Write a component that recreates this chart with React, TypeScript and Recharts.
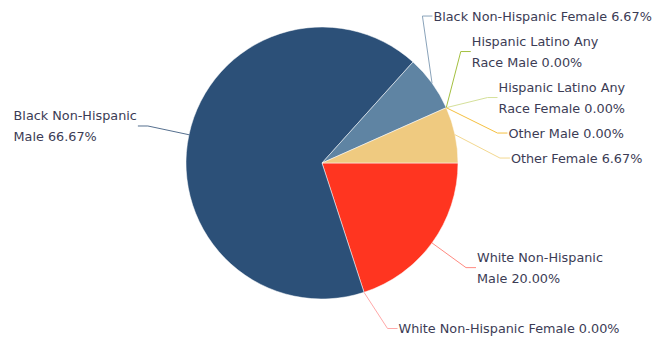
import React from "react";
import { PieChart, Pie, Cell } from "recharts";

// slices, clockwise from 3 o'clock
const categories = [
  "White Non-Hispanic Male",
  "White Non-Hispanic Female",
  "Black Non-Hispanic Male",
  "Black Non-Hispanic Female",
  "Hispanic Latino Any Race Male",
  "Hispanic Latino Any Race Female",
  "Other Male",
  "Other Female",
];
const counts = [3, 0, 10, 1, 0, 0, 0, 1];
const sliceColors = ["#ff3520", "#ff9a9a", "#2c5078", "#5f84a3", "#a2bf3a", "#d5e09a", "#f5bf3e", "#efca80"];
const connectorColors = ["#ff8a80", "#ffa8a8", "#56708f", "#8aa3ba", "#a4c040", "#d5e09a", "#f5c040", "#f3d890"];
// how many words go on the first label line (0 = no wrap)
const firstLineWords = [2, 0, 2, 0, 3, 3, 0, 0];

const W = 652;
const H = 340;
const CX = 322;
const CY = 163;
const R = 136;
const LABEL_R = 178;
const LINE_H = 21;
const FONT_SIZE = 12.8;
const FONT_FAMILY = "'DejaVu Sans', sans-serif";
const TEXT_COLOR = "#3c3c55";

const total = counts.reduce((a, b) => a + b, 0);
const data = categories.map((name, i) => ({ name, value: counts[i] }));

function labelLines(i: number) {
  const pct = ((counts[i] / total) * 100).toFixed(2) + "%";
  const words = (categories[i] + " " + pct).split(" ");
  const n = firstLineWords[i];
  return n ? [words.slice(0, n).join(" "), words.slice(n).join(" ")] : [words.join(" ")];
}

type Box = { i: number; side: number; target: number; h: number; lines: string[]; y: number };

// spread labels on each side so they don't overlap
function layoutLabels() {
  const items: Box[] = counts.map((v, i) => {
    const before = counts.slice(0, i).reduce((a, b) => a + b, 0);
    const rad = (((before + v / 2) / total) * 360 * Math.PI) / 180;
    const lines = labelLines(i);
    return {
      i,
      side: Math.cos(rad) >= 0 ? 1 : -1,
      target: CY + Math.sin(rad) * LABEL_R,
      h: lines.length * LINE_H + 4,
      lines,
      y: 0,
    };
  });
  const pos: Box[] = [];
  [1, -1].forEach((side) => {
    const boxes = items.filter((b) => b.side === side).sort((a, b) => a.target - b.target || a.i - b.i);
    type Group = { items: Box[]; size: number; top: number };
    const place = (g: Group) => {
      let off = 0;
      let sum = 0;
      g.items.forEach((b) => {
        sum += b.target - (off + b.h / 2);
        off += b.h;
      });
      g.top = Math.min(Math.max(sum / g.items.length, 0), H + 1 - g.size);
    };
    const groups: Group[] = boxes.map((b) => ({ items: [b], size: b.h, top: 0 }));
    groups.forEach(place);
    let merged = true;
    while (merged) {
      merged = false;
      for (let k = 0; k < groups.length - 1; k++) {
        if (groups[k].top + groups[k].size > groups[k + 1].top) {
          const g = { items: [...groups[k].items, ...groups[k + 1].items], size: groups[k].size + groups[k + 1].size, top: 0 };
          place(g);
          groups.splice(k, 2, g);
          merged = true;
          break;
        }
      }
    }
    groups.forEach((g) => {
      let off = g.top;
      g.items.forEach((b) => {
        pos[b.i] = { ...b, y: off + b.h / 2 };
        off += b.h;
      });
    });
  });
  return pos;
}

const layout = layoutLabels();

let ctx: CanvasRenderingContext2D | null = null;
function measure(s: string) {
  if (!ctx) ctx = document.createElement("canvas").getContext("2d");
  if (!ctx) return s.length * 7;
  ctx.font = `${FONT_SIZE}px ${FONT_FAMILY}`;
  return ctx.measureText(s).width;
}

const RAD = Math.PI / 180;

const renderLabel = (props: any) => {
  const { cx, cy, midAngle, outerRadius, index } = props;
  const L = layout[index];
  const a = -midAngle * RAD;
  const ex = cx + Math.cos(a) * outerRadius;
  const ey = cy + Math.sin(a) * outerRadius;
  const dy = L.y - cy;
  const bx = cx + L.side * Math.sqrt(Math.max(0, LABEL_R * LABEL_R - dy * dy));
  const tx = bx + L.side * 11;
  const width = Math.max(...L.lines.map(measure));
  const startX = L.side > 0 ? tx : tx - width;
  const baseline = L.y - ((L.lines.length - 1) * LINE_H) / 2 + 4.5;
  return (
    <g key={`lbl-${index}`}>
      <path
        d={`M${ex},${ey}L${bx},${L.y}L${tx - L.side},${L.y}`}
        stroke={connectorColors[index]}
        strokeWidth={1}
        fill="none"
      />
      <text x={startX} y={baseline} fill={TEXT_COLOR} fontSize={FONT_SIZE} fontFamily={FONT_FAMILY}>
        {L.lines.map((ln, k) => (
          <tspan key={k} x={startX} dy={k ? LINE_H : 0}>
            {ln}
          </tspan>
        ))}
      </text>
    </g>
  );
};

export default function App() {
  return (
    <div style={{ position: "absolute", left: 0, top: 0, width: W, height: H, background: "#fff" }}>
      <PieChart width={W} height={H} margin={{ top: 0, right: 0, bottom: 0, left: 0 }}>
        <Pie
          data={data}
          dataKey="value"
          nameKey="name"
          cx={CX}
          cy={CY}
          outerRadius={R}
          startAngle={0}
          endAngle={-360}
          stroke="#ffffff"
          strokeWidth={0.5}
          label={renderLabel}
          labelLine={false}
          isAnimationActive={false}
        >
          {data.map((d, i) => (
            <Cell key={d.name} fill={sliceColors[i]} />
          ))}
        </Pie>
      </PieChart>
    </div>
  );
}
